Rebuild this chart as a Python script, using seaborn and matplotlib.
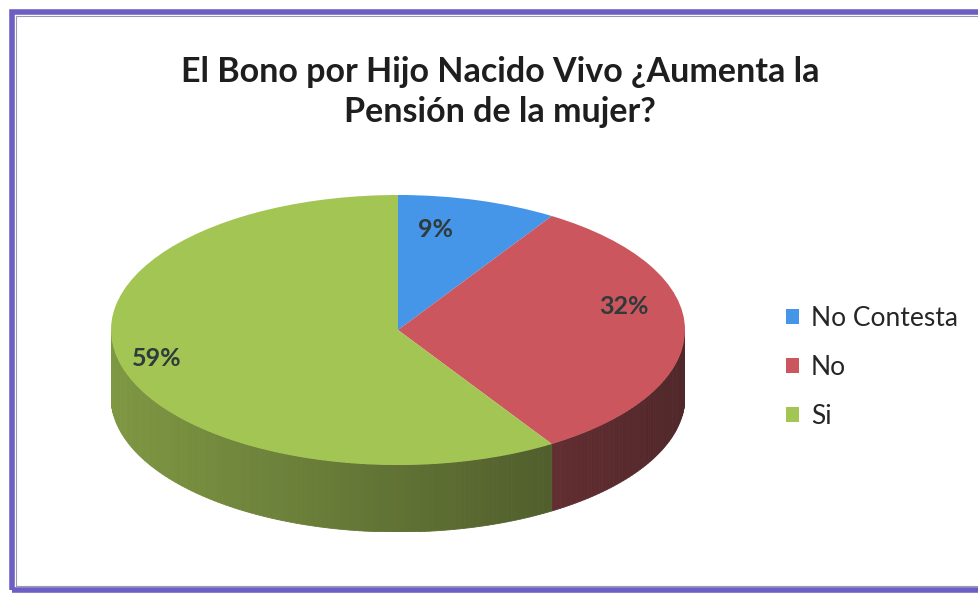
import numpy as np
import matplotlib
matplotlib.use("Agg")
import matplotlib.pyplot as plt
import matplotlib.colors as mcolors
import matplotlib.transforms as mtransforms
from matplotlib.patches import Polygon, Rectangle
import seaborn as sns

# data
categories = ["No Contesta", "No", "Si"]
percentages = [9, 32, 59]
top_colors = ["#4595E8", "#CB565E", "#A3C553"]

sns.set_theme(style="white")
plt.rcParams["font.family"] = ["Lato", "DejaVu Sans"]

W, H = 979, 594
fig = plt.figure(figsize=(W / 100, H / 100), dpi=100)
fig.patch.set_facecolor("white")

# pie geometry in pixels (top ellipse centre, half axes, side depth)
cx, cy, rx, ry, depth = 398, 330, 287, 135, 67
d = depth / ry
ax = fig.add_axes([(cx - rx) / W, (H - (cy + ry + depth)) / H,
                   2 * rx / W, (2 * ry + depth) / H])

wedges, texts, autotexts = ax.pie(
    percentages, colors=top_colors, startangle=90, counterclock=False,
    autopct="%1.0f%%", pctdistance=0.8,
    wedgeprops=dict(linewidth=0),
    textprops=dict(fontsize=18, fontweight="bold", color="#2f3a3a"),
)
for w in wedges:
    w.set_zorder(3)
# nudge labels a little to mimic the perspective of the original (pixels)
label_nudge = [(-27, -3), (-4, 23), (-21, 2)]
for t, (dx, dy) in zip(autotexts, label_nudge):
    t.set_zorder(5)
    t.set_transform(ax.transData + mtransforms.ScaledTranslation(
        dx / 100, dy / 100, fig.dpi_scale_trans))
ax.set_aspect("auto")
ax.set_xlim(-1, 1)
ax.set_ylim(-1 - d, 1)
ax.axis("off")

# side of the 3D pie: only the front half (-180..0 deg) is visible
grey = np.array([0.28, 0.25, 0.25])
cum = np.concatenate([[0], np.cumsum(percentages)]) / sum(percentages) * 360
for i, base in enumerate(top_colors):
    start, end = 90 - cum[i + 1], 90 - cum[i]
    for k in (0, -360):
        lo, hi = max(start, -180 + k), min(end, 0 + k)
        if lo >= hi:
            continue
        ts = np.radians(np.linspace(lo, hi, max(int(hi - lo), 2) + 1))
        rgb = np.array(mcolors.to_rgb(base))
        for ta, tb in zip(ts[:-1], ts[1:]):
            f = 0.64 - 0.24 * np.cos((ta + tb) / 2)
            c = np.clip(rgb * f * 0.85 + grey * 0.2 * (1.2 - f), 0, 1)
            pts = [(np.cos(ta), np.sin(ta)), (np.cos(tb), np.sin(tb)),
                   (np.cos(tb), np.sin(tb) - d), (np.cos(ta), np.sin(ta) - d)]
            ax.add_patch(Polygon(pts, closed=True, facecolor=c,
                                 edgecolor=c, lw=0.6, zorder=1))

fig.text(500 / W, 1 - 92 / H,
         "El Bono por Hijo Nacido Vivo ¿Aumenta la\nPensión de la mujer?",
         ha="center", va="center", fontsize=24.5, fontweight="bold",
         color="#1e1e1e", linespacing=1.27)

fig.legend(wedges, categories, loc="upper left",
           bbox_to_anchor=(762 / W, 1 - 282 / H), frameon=False,
           fontsize=19, handlelength=0.5, handleheight=0.5,
           handletextpad=0.45, labelspacing=0.92)

# purple frame
fig.patches.append(Rectangle((12 / W, 4 / H), 1.0, 1 - 16 / H,
                             transform=fig.transFigure, fill=False,
                             edgecolor="#6c5ec4", lw=4))
fig.patches.append(Rectangle((16 / W, 8 / H), 1.0, 1 - 24 / H,
                             transform=fig.transFigure, fill=False,
                             edgecolor="#9a9aa8", lw=0.8))

fig.savefig("out.png", dpi=100, facecolor="white")
